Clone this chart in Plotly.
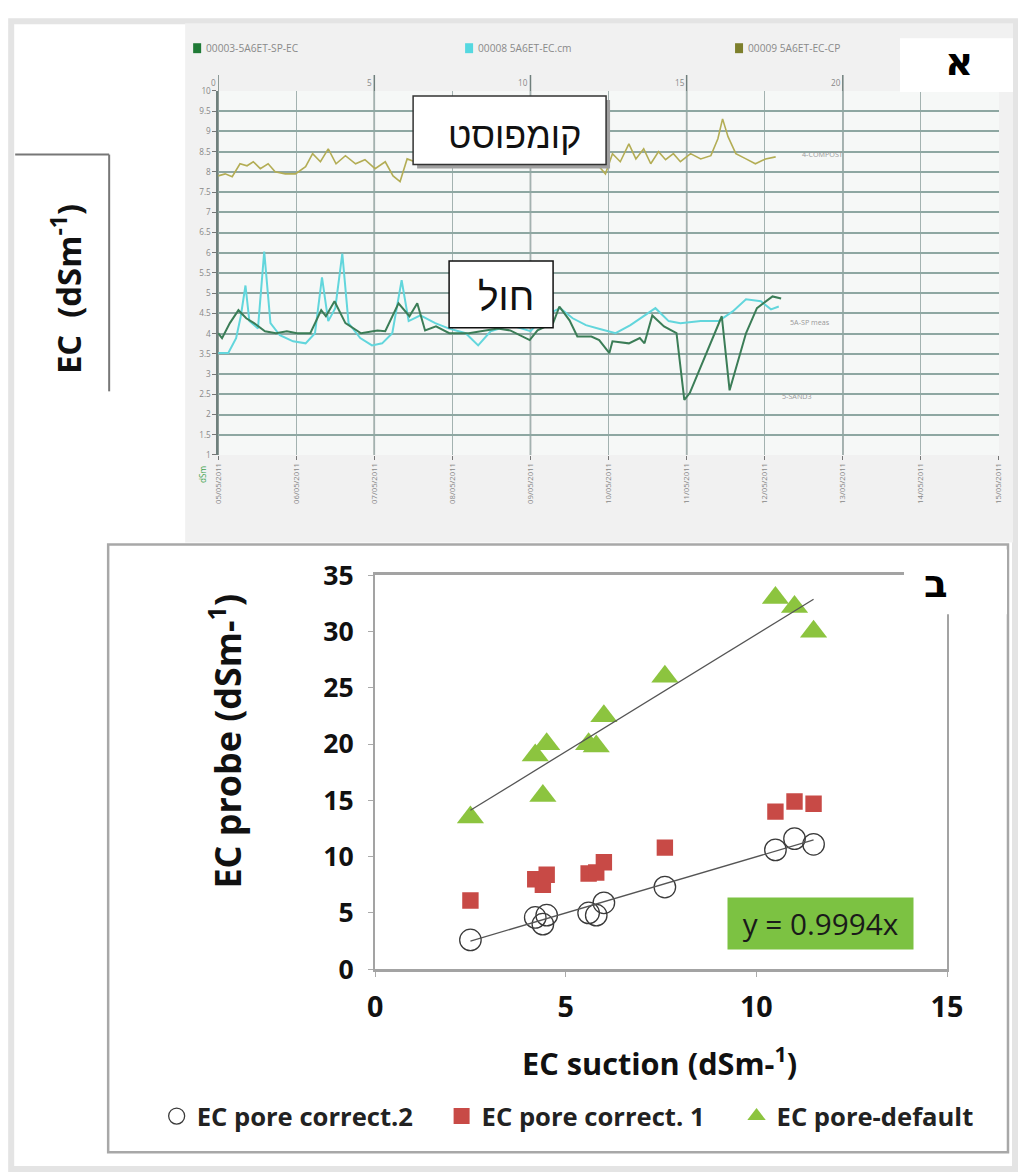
import numpy as np
import plotly.graph_objects as go

# Measured mapping between figure pixels and the photographed page:
# shown = S * (figure_px + O).  Layout positions below are given in reference pixels.
SX, SY = 0.977, 0.975
OX, OY = 8, 14
W, H = 1035, 1190
K = 1 / 0.976          # size compensation for fonts / markers

def fx(d): return d / SX - OX
def fy(d): return d / SY - OY
def px(d): return fx(d) / W
def py(d): return 1 - fy(d) / H
def fs(s): return round(s * K, 1)

# ---------------- Panel A : time series ----------------
days = [0, 1, 2, 3, 4, 5, 6, 7, 8, 9, 10]
day_labels = ["05/05/2011", "06/05/2011", "07/05/2011", "08/05/2011", "09/05/2011",
              "10/05/2011", "11/05/2011", "12/05/2011", "13/05/2011", "14/05/2011", "15/05/2011"]
ec_ticks = [1, 1.5, 2, 2.5, 3, 3.5, 4, 4.5, 5, 5.5, 6, 6.5, 7, 7.5, 8, 8.5, 9, 9.5, 10]
ec_tick_labels = ["1", "1.5", "2", "2.5", "3", "3.5", "4", "4.5", "5", "5.5", "6",
                  "6.5", "7", "7.5", "8", "8.5", "9", "9.5", "10"]
major_days = [0, 2, 4, 6, 8]
major_day_labels = ["0", "5", "10", "15", "20"]

compost_t = [0, .09, .18, .28, .37, .45, .54, .64, .73, .86, .99, 1.12, 1.21, 1.31, 1.41, 1.51,
             1.63, 1.76, 1.88, 2.01, 2.14, 2.24, 2.33, 2.42, 2.59, 2.85, 3.10, 3.36, 3.62, 3.87,
             4.13, 4.38, 4.64, 4.87, 4.96, 5.05, 5.15, 5.26, 5.35, 5.45, 5.54, 5.64, 5.73, 5.83,
             5.92, 6.05, 6.18, 6.31, 6.40, 6.46, 6.53, 6.63, 6.76, 6.88, 7.01, 7.14]
compost_ec = [7.90, 7.95, 7.88, 8.20, 8.15, 8.25, 8.08, 8.20, 8.00, 7.95, 7.95, 8.13, 8.45, 8.25,
              8.57, 8.20, 8.40, 8.20, 8.30, 8.08, 8.25, 7.90, 7.76, 8.32, 8.20, 8.15, 8.25, 8.13,
              8.20, 8.15, 8.25, 8.13, 8.20, 8.15, 7.95, 8.45, 8.25, 8.69, 8.32, 8.57, 8.20, 8.50,
              8.30, 8.45, 8.25, 8.45, 8.32, 8.40, 8.82, 9.31, 8.87, 8.45, 8.32, 8.20, 8.32, 8.37]

sand_sp_t = [0, .05, .15, .26, .36, .46, .60, .74, .88, 1.01, 1.18, 1.32, 1.38, 1.49, 1.63, 1.83,
             2.04, 2.14, 2.31, 2.45, 2.55, 2.65, 2.79, 2.96, 3.21, 3.41, 3.58, 3.74, 3.99, 4.09,
             4.29, 4.37, 4.50, 4.60, 4.78, 4.88, 5.01, 5.05, 5.26, 5.40, 5.46, 5.56, 5.71, 5.87,
             5.97, 6.04, 6.24, 6.45, 6.55, 6.76, 6.90, 7.04, 7.10, 7.21]
sand_sp_ec = [4.01, 3.89, 4.26, 4.58, 4.38, 4.26, 4.06, 4.01, 4.06, 4.01, 4.01, 4.58, 4.43, 4.80,
              4.26, 4.01, 4.08, 4.06, 4.75, 4.43, 4.75, 4.08, 4.18, 4.01, 4.01, 4.08, 4.13, 4.08,
              3.84, 4.08, 4.26, 4.67, 4.33, 3.93, 3.93, 3.84, 3.52, 3.81, 3.76, 3.89, 3.76, 4.45,
              4.18, 4.01, 2.36, 2.53, 3.44, 4.43, 2.60, 4.01, 4.63, 4.82, 4.92, 4.87]

sand_cm_t = [0, .13, .23, .29, .35, .40, .51, .59, .67, .79, .96, 1.12, 1.24, 1.33, 1.41, 1.50,
             1.59, 1.67, 1.82, 1.97, 2.10, 2.23, 2.35, 2.44, 2.59, 2.78, 2.95, 3.17, 3.33, 3.49,
             3.74, 4.00, 4.19, 4.38, 4.54, 4.71, 4.90, 5.09, 5.28, 5.47, 5.60, 5.77, 5.92, 6.18,
             6.41, 6.59, 6.76, 6.95, 7.08, 7.18]
sand_cm_ec = [3.52, 3.52, 3.89, 4.43, 5.19, 4.31, 4.13, 6.03, 4.26, 3.96, 3.81, 3.76, 4.01, 5.39,
              4.31, 4.63, 5.98, 4.26, 3.89, 3.71, 3.76, 4.01, 5.32, 4.31, 4.45, 4.26, 4.13, 4.01,
              3.71, 4.06, 4.21, 4.06, 4.45, 4.63, 4.38, 4.21, 4.11, 4.01, 4.21, 4.45, 4.63, 4.31,
              4.26, 4.31, 4.31, 4.55, 4.85, 4.80, 4.60, 4.67]

top_series_names = ["00003-5A6ET-SP-EC", "00008 5A6ET-EC.cm", "00009 5A6ET-EC-CP"]
end_labels = ["4-COMPOST", "5A-SP meas", "5-SAND3"]
end_label_pos_t = [7.45, 7.3, 7.2]
end_label_pos_ec = [8.43, 4.3, 2.45]

# ---------------- Panel B : scatter ----------------
ec_suction = [2.5, 4.2, 4.4, 4.5, 5.6, 5.8, 6.0, 7.6, 10.5, 11.0, 11.5]
ec_pore_default = [13.5, 19.0, 15.4, 20.0, 20.0, 19.8, 22.5, 26.0, 33.0, 32.2, 30.0]
ec_pore_corr1 = [6.1, 8.0, 7.5, 8.4, 8.5, 8.6, 9.5, 10.8, 14.0, 14.9, 14.7]
ec_pore_corr2 = [2.6, 4.6, 4.0, 4.8, 5.0, 4.8, 5.9, 7.3, 10.6, 11.6, 11.1]
corr2_slope = 0.9994
x_ticks_b = [0, 5, 10, 15]
y_ticks_b = [0, 5, 10, 15, 20, 25, 30, 35]

fig = go.Figure()

# ----- panel A traces
fig.add_trace(go.Scatter(x=sand_cm_t, y=sand_cm_ec, mode="lines", xaxis="x", yaxis="y",
                         line=dict(color="#62d6dc", width=2), showlegend=False))
fig.add_trace(go.Scatter(x=sand_sp_t, y=sand_sp_ec, mode="lines", xaxis="x", yaxis="y",
                         line=dict(color="#3b7d57", width=2), showlegend=False))
fig.add_trace(go.Scatter(x=compost_t, y=compost_ec, mode="lines", xaxis="x", yaxis="y",
                         line=dict(color="#b3ad55", width=1.6), showlegend=False))

# ----- panel B traces
fig.add_trace(go.Scatter(x=ec_suction, y=ec_pore_corr2, mode="markers", xaxis="x2", yaxis="y2",
                         name="EC pore correct.2", legend="legend",
                         marker=dict(symbol="circle-open", size=fs(21), color="#3a3a3a",
                                     line=dict(width=1.3, color="#3a3a3a"))))
fig.add_trace(go.Scatter(x=ec_suction, y=ec_pore_corr1, mode="markers", xaxis="x2", yaxis="y2",
                         name="EC pore correct. 1", legend="legend2",
                         marker=dict(symbol="square", size=fs(16), color="#c84a46")))
fig.add_trace(go.Scatter(x=ec_suction, y=ec_pore_default, mode="markers", xaxis="x2", yaxis="y2",
                         name="EC pore-default", legend="legend3",
                         marker=dict(symbol="triangle-up", size=fs(23), color="#8cc43f")))

# trend lines
xs = np.array(ec_suction)
slope, icpt = np.polyfit(xs, np.array(ec_pore_default), 1)
xl = np.array([xs.min(), xs.max()])
fig.add_trace(go.Scatter(x=xl, y=slope * xl + icpt, mode="lines", xaxis="x2", yaxis="y2",
                         line=dict(color="#555", width=1.3), showlegend=False, hoverinfo="skip"))
fig.add_trace(go.Scatter(x=xl, y=corr2_slope * xl, mode="lines", xaxis="x2", yaxis="y2",
                         line=dict(color="#555", width=1.3), showlegend=False, hoverinfo="skip"))

shapes = []
ann = []

def text(x, y, t, size, color="#111", family="Open Sans", xref="paper", yref="paper",
         angle=0, xanchor="center", **kw):
    ann.append(dict(x=x, y=y, xref=xref, yref=yref, text=t, showarrow=False, textangle=angle,
                    xanchor=xanchor, yanchor="middle",
                    font=dict(size=fs(size), color=color, family=family), **kw))

def prect(x0, y0, x1, y1, fill=None, line_color=None, lw=0, layer="above"):
    shapes.append(dict(type="rect", xref="paper", yref="paper", x0=px(x0), x1=px(x1),
                       y0=py(y1), y1=py(y0), fillcolor=fill if fill else "rgba(0,0,0,0)",
                       line=dict(color=line_color if line_color else "rgba(0,0,0,0)", width=lw),
                       layer=layer))

def pline(x0, y0, x1, y1, color, lw):
    shapes.append(dict(type="line", xref="paper", yref="paper", x0=px(x0), x1=px(x1),
                       y0=py(y0), y1=py(y1), line=dict(color=color, width=lw)))

# page frame (visible part)
prect(11, 16, 1015, 1170, line_color="#e4e4e4", lw=6, layer="below")
# panel A background
prect(185, 18, 1013, 540, fill="#f1f1f1", layer="below")
prect(218, 86, 999, 452, fill="#f6f8f7", layer="below")
# major vertical lines of panel A
for d in major_days:
    shapes.append(dict(type="line", xref="x", yref="paper", x0=d, x1=d, y0=py(452), y1=py(70),
                       line=dict(color="#6f7f7c", width=1.5), layer="below"))
for d, lab in zip(major_days, major_day_labels):
    text(d, py(77), lab, 8, color="#888", xref="x", xanchor="right")

# top legend of panel A
top_colors = ["#1f7a36", "#55d8e0", "#7d7f2c"]
top_leg_x = [193, 465, 735]
for xx, c, name in zip(top_leg_x, top_colors, top_series_names):
    prect(xx, 38, xx + 8, 48, fill=c)
    text(px(xx + 11), py(43), name, 10, color="#8a8a8a", xanchor="left")

# end-of-series labels
for t, e, lab in zip(end_label_pos_t, end_label_pos_ec, end_labels):
    text(t, e, lab, 7, color="#999", xref="x", yref="y", xanchor="left")

# green rotated unit label under panel A axis
text(px(203), py(472), "dSm", 8, color="#3fa34d", angle=-90)

# white box with letter alef
prect(900, 33, 1013, 87, fill="white")
text(px(959), py(56), "<b>א</b>", 38, color="black", family="DejaVu Sans")

# compost box (with shadow)
prect(417, 95, 610, 164, fill="#a0a0a0")
prect(413, 91, 606, 160, fill="white", line_color="#333", lw=1.5)
text(px(514), py(131), "קומפוסט", 35, family="Liberation Sans, DejaVu Sans")
# sand box
prect(449, 257, 553, 324, fill="white", line_color="#111", lw=1.5)
text(px(506), py(293), "חול", 38, family="Liberation Sans, DejaVu Sans")

# left EC label with bracket line
pline(15, 150, 109, 150, "#777", 2)
pline(109, 150, 109, 388, "#777", 2)
text(px(67), py(285), "<b>EC  (dSm<sup>-1</sup>)</b>", 32, angle=-90)

# panel B frame
prect(108, 542, 1008, 1153, line_color="#a8a8a8", lw=2.5)
# white box with letter bet
prect(904, 547, 1007, 612, fill="white")
text(px(936), py(581), "<b>ב</b>", 38, color="black", family="DejaVu Sans")

# axis titles panel B
text(px(225), py(740), "<b>EC probe (dSm-<sup>1</sup>)</b>", 35, angle=-90)
text(px(659), py(1062), "<b>EC suction (dSm-<sup>1</sup>)</b>", 30)
# equation box
text(px(820), py(923), "y = 0.9994x", 29, color="#1a1a1a",
     bgcolor="#7cc242", width=round(173 * K), height=round(42 * K), borderpad=4)

leg_common = dict(orientation="h", xanchor="left", yanchor="middle", bgcolor="rgba(0,0,0,0)",
                  font=dict(size=fs(25), color="#222", family="Open Sans", weight="bold"),
                  itemwidth=30)
def lx(text_start): return (fx(text_start) - 43.5) / W

fig.update_layout(
    width=W, height=H, margin=dict(l=0, r=0, t=0, b=0),
    paper_bgcolor="white", plot_bgcolor="rgba(0,0,0,0)",
    shapes=shapes, annotations=ann,
    xaxis=dict(domain=[px(218), px(999)], range=[0, 10], anchor="y",
               tickvals=days, ticktext=day_labels, tickangle=-90,
               tickfont=dict(size=fs(7.5), color="#888"), ticks="outside", ticklen=4,
               tickcolor="#777",
               showgrid=True, gridcolor="#a3b2b0", gridwidth=1, zeroline=False, showline=False),
    yaxis=dict(domain=[py(452), py(86)], range=[1, 10], anchor="x",
               tickvals=ec_ticks, ticktext=ec_tick_labels, tickfont=dict(size=fs(8), color="#888"),
               ticks="outside", ticklen=4, tickcolor="#777",
               showgrid=True, gridcolor="#8ea7a2", gridwidth=2.2, zeroline=False,
               showline=True, linecolor="#6f7f7c", linewidth=1.5),
    xaxis2=dict(domain=[px(375), px(947)], range=[0, 15], anchor="y2",
                tickvals=x_ticks_b, ticks="outside", ticklen=5, tickcolor="#aaa",
                tickfont=dict(size=fs(28), color="#111", family="Open Sans", weight="bold"),
                ticklabelstandoff=6,
                showgrid=False, zeroline=False, showline=True, mirror=True,
                linecolor="#a3a3a3", linewidth=2.5),
    yaxis2=dict(domain=[py(969), py(573)], range=[0, 35], anchor="x2",
                tickvals=y_ticks_b, ticks="outside", ticklen=5, tickcolor="#aaa",
                tickfont=dict(size=fs(26), color="#111", family="Open Sans", weight="bold"),
                ticklabelstandoff=9,
                showgrid=False, zeroline=False, showline=True, mirror=True,
                linecolor="#a3a3a3", linewidth=2),
    legend=dict(x=lx(199), y=py(1117), **leg_common),
    legend2=dict(x=lx(484), y=py(1117), **leg_common),
    legend3=dict(x=lx(779), y=py(1117), **leg_common),
)

fig.write_html("out.html")
